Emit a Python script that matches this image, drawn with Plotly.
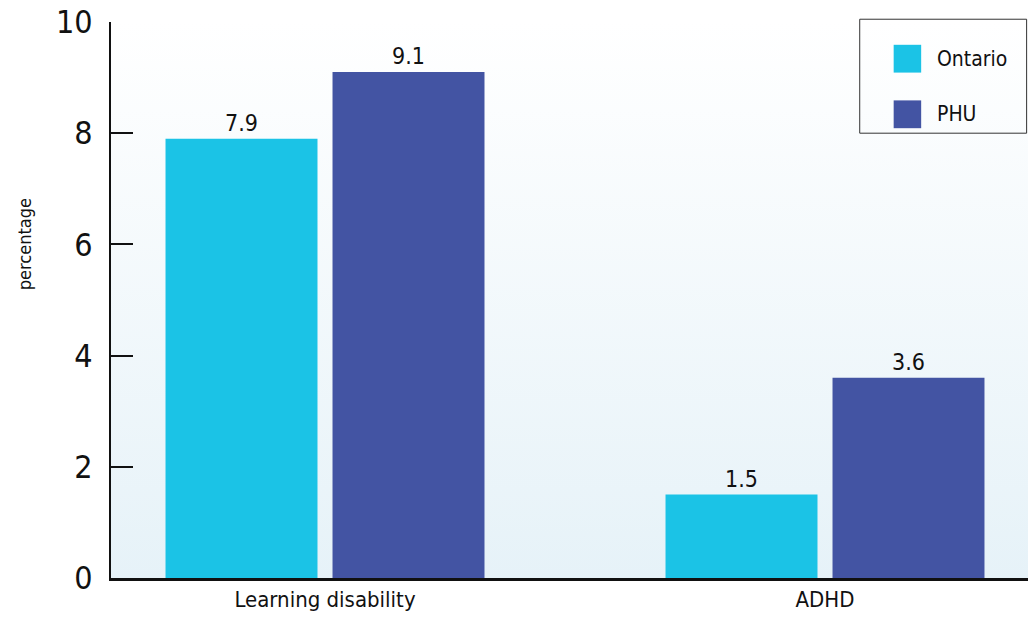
import base64

import plotly.graph_objects as go

categories = ["Learning disability", "ADHD"]
series_names = ["Ontario", "PHU"]
ontario = [7.9, 1.5]
phu = [9.1, 3.6]
y_ticks = [0, 2, 4, 6, 8, 10]

colors = {"Ontario": "#1bc3e6", "PHU": "#4354a3"}
font_family = "Liberation Sans Narrow, DejaVu Sans Condensed, sans-serif"

# soft white-to-pale-blue plot background
svg = (
    '<svg xmlns="http://www.w3.org/2000/svg" width="100" height="100" preserveAspectRatio="none">'
    '<defs><linearGradient id="g" x1="0" y1="0" x2="0" y2="1">'
    '<stop offset="0" stop-color="#ffffff"/><stop offset="1" stop-color="#e6f2f8"/>'
    "</linearGradient></defs>"
    '<rect width="100" height="100" fill="url(#g)"/></svg>'
)
bg_uri = "data:image/svg+xml;base64," + base64.b64encode(svg.encode()).decode()

fig = go.Figure()
for name, values in zip(series_names, [ontario, phu]):
    fig.add_trace(
        go.Bar(
            x=categories,
            y=values,
            name=name,
            marker=dict(color=colors[name], line=dict(width=0)),
            text=[f"{v:.1f}" for v in values],
            textposition="outside",
            textfont=dict(size=23, color="#111111", family=font_family),
            cliponaxis=False,
            showlegend=False,
        )
    )

# hand-drawn legend box to get the large swatches
fig.add_shape(
    type="rect", xref="paper", yref="paper",
    x0=0.8165, x1=0.9985, y0=0.800, y1=1.005,
    line=dict(color="#333333", width=1), fillcolor="rgba(0,0,0,0)",
)
for i, name in enumerate(series_names):
    y_mid = 0.934 - i * 0.1
    fig.add_shape(
        type="rect", xref="paper", yref="paper",
        x0=0.8535, x1=0.8835, y0=y_mid - 0.025, y1=y_mid + 0.025,
        line=dict(width=0), fillcolor=colors[name],
    )
    fig.add_annotation(
        text=name, xref="paper", yref="paper", x=0.899, y=y_mid,
        xanchor="left", yanchor="middle", showarrow=False,
        font=dict(size=21, color="#111111", family=font_family),
    )

# y-axis title sits above the middle of the axis in the original
fig.add_annotation(
    text="percentage", xref="paper", yref="paper", x=-0.094, y=0.60,
    xanchor="center", yanchor="middle", textangle=-90, showarrow=False,
    font=dict(size=18, color="#111111", family=font_family),
)

fig.update_layout(
    width=1028,
    height=619,
    margin=dict(l=111, r=0, t=22, b=41),
    paper_bgcolor="white",
    plot_bgcolor="rgba(0,0,0,0)",
    barmode="group",
    bargap=0.332,
    bargroupgap=0.09,
    font=dict(family=font_family, color="#111111"),
    images=[
        dict(
            source=bg_uri, xref="paper", yref="paper", x=0, y=1,
            sizex=1, sizey=1, sizing="stretch", layer="below",
        )
    ],
    xaxis=dict(
        range=[-0.428, 1.406],
        showgrid=False,
        showline=True,
        linecolor="#111111",
        linewidth=3,
        ticks="",
        automargin=False,
        tickfont=dict(size=22, family=font_family),
    ),
    yaxis=dict(
        range=[0, 10],
        tickvals=y_ticks,
        showgrid=False,
        zeroline=False,
        showline=True,
        linecolor="#111111",
        linewidth=2,
        ticks="inside",
        ticklen=22,
        tickwidth=2,
        tickcolor="#111111",
        ticklabelstandoff=10,
        ticklabeloverflow="allow",
        automargin=False,
        tickfont=dict(size=32, family=font_family),
    ),
)

# drop the default page margin so the figure sits flush in the window
fig.write_html(
    "out.html",
    config={"displayModeBar": False},
    post_script="document.body.style.margin='0';document.body.style.overflow='hidden';",
)
